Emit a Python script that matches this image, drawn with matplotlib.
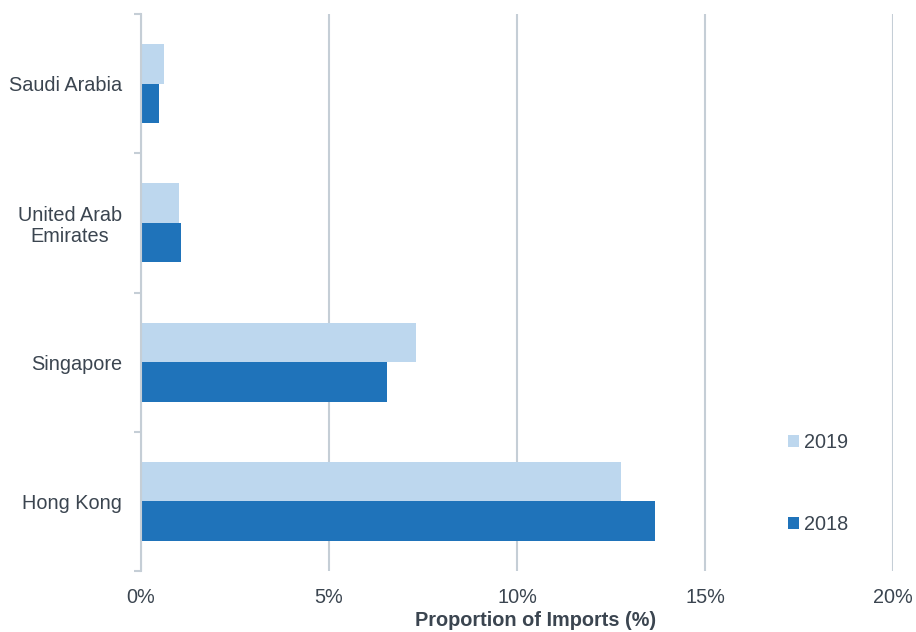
import matplotlib.pyplot as plt
import numpy as np

plt.rcParams['font.family'] = ['Liberation Sans', 'DejaVu Sans']

# data, bottom to top
countries = ['Hong Kong', 'Singapore', 'United Arab\nEmirates', 'Saudi Arabia']
share_2019 = [12.77, 7.31, 1.00, 0.61]
share_2018 = [13.67, 6.54, 1.06, 0.49]
xticks = [0, 5, 10, 15, 20]

light = '#bdd7ee'
dark = '#1f73ba'
txt = '#3b4550'
grid = '#c5ced6'
fs = 14.3

fig = plt.figure(figsize=(9.16, 6.32), dpi=100)
ax = fig.add_axes([141/916, 61/632, (893-141)/916, (571-14)/632])

y = np.arange(len(countries))
h = 0.284
b19 = ax.barh(y + h/2, share_2019, height=h, color=light, label='2019', zorder=3)
b18 = ax.barh(y - h/2, share_2018, height=h, color=dark, label='2018', zorder=3)

ax.set_xlim(0, 20)
ax.set_ylim(-0.5, len(countries) - 0.5)

ax.set_xticks(xticks)
ax.set_xticklabels([f'{v}%' for v in xticks])
ax.xaxis.grid(True, color=grid, linewidth=1.5, zorder=0)
ax.tick_params(axis='x', length=0, pad=12, labelsize=fs, labelcolor=txt)
ax.set_xlabel('Proportion of Imports (%)', fontsize=fs, fontweight='bold',
              color=txt)
ax.xaxis.set_label_coords(0.525, -0.088)
ax.xaxis.label.set_va('center')

# category labels at centres, ticks at boundaries
ax.set_yticks(y)
ax.set_yticklabels(countries, fontsize=fs, color=txt, linespacing=1.15)
ax.set_yticks(np.arange(-0.5, len(countries)), minor=True)
ax.tick_params(axis='y', which='major', length=0, pad=13.5)
ax.tick_params(axis='y', which='minor', length=5, width=1.5, color=grid)
for lbl in ax.get_yticklabels():
    lbl.set_multialignment('center')

for s in ['top', 'right', 'bottom']:
    ax.spines[s].set_visible(False)
ax.spines['left'].set_color(grid)
ax.spines['left'].set_linewidth(1.5)
ax.spines['left'].set_zorder(4)

ax.legend(handles=[b19, b18], loc='upper left', bbox_to_anchor=(0.85, 0.262),
          frameon=False, fontsize=fs, labelcolor=txt, handlelength=0.55,
          handleheight=0.55, handletextpad=0.25, labelspacing=3.15,
          borderaxespad=0)

fig.savefig('out.png', dpi=100)
